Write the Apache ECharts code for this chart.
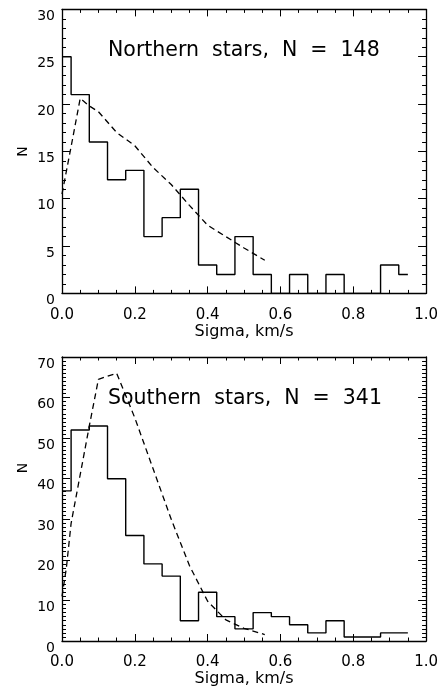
<!DOCTYPE html>
<html>
<head>
<meta charset="utf-8">
<script src="https://cdn.jsdelivr.net/npm/echarts@6/dist/echarts.min.js"></script>
<style>
html,body{margin:0;padding:0;background:#fff;}
#chart{width:441px;height:690px;}
</style>
</head>
<body>
<div id="chart"></div>
<script>
// Histogram bin centres (km/s)
const binCenters = [0, 0.05, 0.1, 0.15, 0.2, 0.25, 0.3, 0.35, 0.4, 0.45, 0.5, 0.55, 0.6, 0.65, 0.7, 0.75, 0.8, 0.85, 0.9, 0.95];
// Counts per bin
const northCounts = [25, 21, 16, 12, 13, 6, 8, 11, 3, 2, 6, 2, 0, 2, 0, 2, 0, 0, 3, 2];
const southCounts = [37, 52, 53, 40, 26, 19, 16, 5, 12, 6, 3, 7, 6, 4, 2, 5, 1, 1, 2, 2];
// Dashed model curves
const northFitX = [0, 0.025, 0.05, 0.075, 0.1, 0.15, 0.2, 0.25, 0.3, 0.35, 0.4, 0.45, 0.5, 0.557];
const northFitY = [10.5, 15.5, 20.6, 19.8, 19.2, 17.0, 15.6, 13.3, 11.5, 9.3, 7.2, 6.0, 4.8, 3.5];
const southFitX = [0, 0.012, 0.025, 0.05, 0.075, 0.1, 0.15, 0.2, 0.25, 0.3, 0.35, 0.4, 0.45, 0.5, 0.557];
const southFitY = [11, 18, 29, 41, 53, 64.5, 66, 55, 42.5, 30, 18.6, 9.8, 5.2, 3.1, 1.6];
// Texts
const titles = ['Northern  stars,  N  =  148', 'Southern  stars,  N  =  341'];
const xTitle = 'Sigma, km/s';
const yTitle = 'N';

const FONT = 'DejaVu Sans';
const pairs = (xs, ys) => xs.map((x, i) => [x, ys[i]]);

function xAxes(gi) {
  const base = {
    type: 'value', gridIndex: gi, min: 0, max: 1, interval: 0.2,
    axisLine: {show: true, onZero: false, lineStyle: {color: '#000', width: 1.3}},
    axisTick: {show: true, inside: true, length: 7, lineStyle: {color: '#000', width: 1}},
    minorTick: {show: true, splitNumber: 4, length: 3.5, lineStyle: {color: '#000', width: 1}},
    splitLine: {show: false}, minorSplitLine: {show: false}
  };
  return [
    Object.assign({}, base, {
      position: 'bottom',
      axisLabel: {show: true, margin: 14, color: '#000', fontFamily: FONT, fontSize: 15,
        formatter: v => v.toFixed(1)},
      name: xTitle, nameLocation: 'middle', nameGap: 30,
      nameTextStyle: {color: '#000', fontFamily: FONT, fontSize: 16}
    }),
    Object.assign({}, base, {position: 'top', axisLabel: {show: false}})
  ];
}

function yAxes(gi, max, interval, minorSplit) {
  const base = {
    type: 'value', gridIndex: gi, min: 0, max: max, interval: interval,
    axisLine: {show: true, onZero: false, lineStyle: {color: '#000', width: 1.3}},
    axisTick: {show: true, inside: true, length: 8, lineStyle: {color: '#000', width: 1}},
    minorTick: {show: true, splitNumber: minorSplit, length: 4, lineStyle: {color: '#000', width: 1}},
    splitLine: {show: false}, minorSplitLine: {show: false}
  };
  return [
    Object.assign({}, base, {
      position: 'left',
      axisLabel: {show: true, margin: 7, color: '#000', fontFamily: FONT, fontSize: 14, verticalAlign: 'top'}
    }),
    Object.assign({}, base, {position: 'right', axisLabel: {show: false}})
  ];
}

const chart = echarts.init(document.getElementById('chart'), null, {renderer: 'canvas'});
const histStyle = {color: '#000', width: 1.4};
const fitStyle = {color: '#000', width: 1.3, type: [6, 4]};

chart.setOption({
  animation: false,
  backgroundColor: '#fff',
  grid: [
    {left: 62, right: 14, top: 9.4, height: 284},
    {left: 62, right: 14, top: 357, height: 284}
  ],
  xAxis: [...xAxes(0), ...xAxes(1)],
  yAxis: [...yAxes(0, 30, 5, 5), ...yAxes(1, 70, 10, 10)],
  series: [
    {type: 'line', xAxisIndex: 0, yAxisIndex: 0, step: 'middle', symbol: 'none',
      data: pairs(binCenters, northCounts), lineStyle: histStyle, z: 3},
    {type: 'line', xAxisIndex: 0, yAxisIndex: 0, symbol: 'none',
      data: pairs(northFitX, northFitY), lineStyle: fitStyle, z: 3},
    {type: 'line', xAxisIndex: 2, yAxisIndex: 2, step: 'middle', symbol: 'none',
      data: pairs(binCenters, southCounts), lineStyle: histStyle, z: 3},
    {type: 'line', xAxisIndex: 2, yAxisIndex: 2, symbol: 'none',
      data: pairs(southFitX, southFitY), lineStyle: fitStyle, z: 3}
  ],
  graphic: [
    {type: 'text', x: 108, y: 51, z: 10,
      style: {text: titles[0], fill: '#000', font: '20.5px "DejaVu Sans"', align: 'left', verticalAlign: 'middle', textAlign: 'left', textVerticalAlign: 'middle'}},
    {type: 'text', x: 108, y: 399, z: 10,
      style: {text: titles[1], fill: '#000', font: '20.5px "DejaVu Sans"', align: 'left', verticalAlign: 'middle', textAlign: 'left', textVerticalAlign: 'middle'}},
    {type: 'text', x: 23, y: 151.5, rotation: Math.PI / 2, z: 10,
      style: {text: yTitle, fill: '#000', font: '14px "DejaVu Sans"', align: 'center', verticalAlign: 'middle', textAlign: 'center', textVerticalAlign: 'middle'}},
    {type: 'text', x: 23, y: 468, rotation: Math.PI / 2, z: 10,
      style: {text: yTitle, fill: '#000', font: '14px "DejaVu Sans"', align: 'center', verticalAlign: 'middle', textAlign: 'center', textVerticalAlign: 'middle'}}
  ]
});
</script>
</body>
</html>
